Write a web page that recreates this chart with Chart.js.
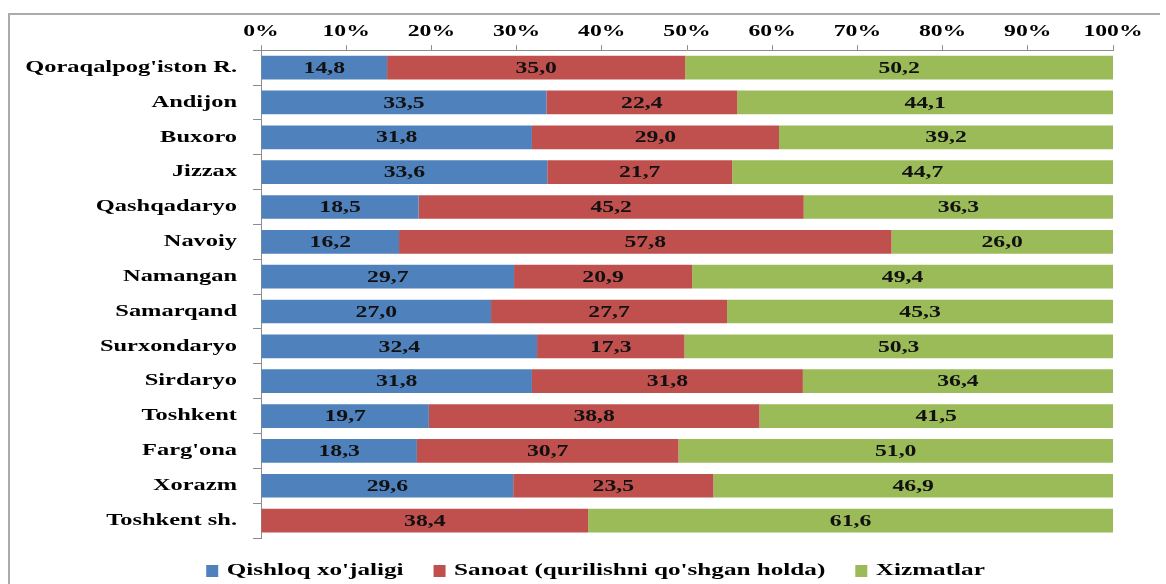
<!DOCTYPE html>
<html>
<head>
<meta charset="utf-8">
<script src="https://cdn.jsdelivr.net/npm/chart.js@4/dist/chart.umd.min.js"></script>
<style>
html,body{margin:0;padding:0;background:#fff;overflow:hidden;width:1166px;height:584px;}
#wrap{position:absolute;left:0;top:0;width:1166px;height:584px;overflow:hidden;}
canvas{display:block;}
</style>
</head>
<body>
<div id="wrap"><canvas id="c" width="1166" height="600"></canvas></div>
<script>
// ---- data ----
const categories = ["Qoraqalpog'iston R.", "Andijon", "Buxoro", "Jizzax", "Qashqadaryo", "Navoiy", "Namangan", "Samarqand", "Surxondaryo", "Sirdaryo", "Toshkent", "Farg'ona", "Xorazm", "Toshkent sh."];
const seriesNames = ["Qishloq xo'jaligi", "Sanoat (qurilishni qo'shgan holda)", "Xizmatlar"];
const agriculture = [14.8, 33.5, 31.8, 33.6, 18.5, 16.2, 29.7, 27.0, 32.4, 31.8, 19.7, 18.3, 29.6, 0];
const industry    = [35.0, 22.4, 29.0, 21.7, 45.2, 57.8, 20.9, 27.7, 17.3, 31.8, 38.8, 30.7, 23.5, 38.4];
const services    = [50.2, 44.1, 39.2, 44.7, 36.3, 26.0, 49.4, 45.3, 50.3, 36.4, 41.5, 51.0, 46.9, 61.6];
const xTickValues = [0, 10, 20, 30, 40, 50, 60, 70, 80, 90, 100];

// ---- styling ----
const COLORS = ['#4F81BD', '#C0504D', '#9BBB59'];
const FONT_FAMILY = '"Liberation Serif", "Times New Roman", serif';
const STRETCH = 1.48;           // horizontal text stretch like the reference
const LEGEND_FONT = 17;
const LEGEND_TEXT_Y = 571;
const LEGEND_CENTER_X = 595.5;
const AXIS_GRAY = '#8c8c8c';
const FRAME_GRAY = '#ababab';

const canvas = document.getElementById('c');
const ctx = canvas.getContext('2d');
const proto = CanvasRenderingContext2D.prototype;
ctx.fillText = function (t, x, y, mw) {
  this.save();
  this.translate(x, y);
  this.scale(STRETCH, 1);
  if (mw !== undefined) proto.fillText.call(this, t, 0, 0, mw / STRETCH);
  else proto.fillText.call(this, t, 0, 0);
  this.restore();
};
ctx.measureText = function (t) {
  const m = proto.measureText.call(this, t);
  return {
    width: m.width * STRETCH,
    actualBoundingBoxAscent: m.actualBoundingBoxAscent,
    actualBoundingBoxDescent: m.actualBoundingBoxDescent,
    actualBoundingBoxLeft: m.actualBoundingBoxLeft * STRETCH,
    actualBoundingBoxRight: m.actualBoundingBoxRight * STRETCH,
    fontBoundingBoxAscent: m.fontBoundingBoxAscent,
    fontBoundingBoxDescent: m.fontBoundingBoxDescent
  };
};

const fmt = v => v.toFixed(1).replace('.', ',');

const frame = {
  id: 'frame',
  beforeDraw(chart) {
    const c = chart.ctx;
    c.save();
    c.fillStyle = FRAME_GRAY;
    c.fillRect(8, 13, chart.width - 14, 2);
    c.fillRect(8, 13, 2, chart.height - 13);
    c.restore();
  }
};

const valueLabels = {
  id: 'valueLabels',
  afterDatasetsDraw(chart) {
    const c = chart.ctx;
    c.save();
    c.font = 'bold 16px ' + FONT_FAMILY;
    c.fillStyle = '#111';
    c.textAlign = 'center';
    c.textBaseline = 'middle';
    chart.data.datasets.forEach((ds, di) => {
      const meta = chart.getDatasetMeta(di);
      meta.data.forEach((bar, i) => {
        const v = ds.data[i];
        if (!v) return;
        const p = bar.getProps(['x', 'base', 'y'], true);
        c.fillText(fmt(v), (p.x + p.base) / 2, p.y + 1);
      });
    });
    c.restore();
  }
};

const legendPlace = {
  id: 'legendPlace',
  afterLayout(chart) {
    const lg = chart.legend;
    if (!lg) return;
    const h = lg.bottom - lg.top;
    const pad = lg.options.labels.padding;
    const top = LEGEND_TEXT_Y - pad - LEGEND_FONT / 2;
    lg.top = top; lg.bottom = top + h;
    const dx = LEGEND_CENTER_X - (lg.left + lg.right) / 2;
    lg.left += dx; lg.right += dx;
  }
};

Chart.defaults.font.family = FONT_FAMILY;
Chart.defaults.font.weight = 'bold';
Chart.defaults.font.size = 16;
Chart.defaults.color = '#000';

const seriesData = [agriculture, industry, services];

new Chart(ctx, {
  type: 'bar',
  data: {
    labels: categories,
    datasets: seriesNames.map((name, i) => ({
      label: name,
      data: seriesData[i],
      backgroundColor: COLORS[i],
      borderWidth: 0,
      categoryPercentage: 1,
      barPercentage: 0.68
    }))
  },
  options: {
    indexAxis: 'y',
    responsive: false,
    animation: false,
    devicePixelRatio: 1,
    layout: { padding: { top: 18, left: 10, right: 53, bottom: 5 } },
    scales: {
      x: {
        position: 'top',
        stacked: true,
        min: 0,
        max: 100,
        afterBuildTicks(scale) { scale.ticks = xTickValues.map(v => ({ value: v })); },
        ticks: { callback: v => v + '%', padding: 4, color: '#000', maxRotation: 0, autoSkip: false, font: { size: 16, weight: 'bold' } },
        grid: { drawOnChartArea: false, tickLength: 5, color: AXIS_GRAY },
        border: { color: AXIS_GRAY }
      },
      y: {
        stacked: true,
        afterFit(scale) { scale.width = 251; },
        ticks: { padding: 16, color: '#000', autoSkip: false, font: { size: 16.5, weight: 'bold' } },
        grid: { drawOnChartArea: false, tickLength: 8, color: AXIS_GRAY },
        border: { color: AXIS_GRAY }
      }
    },
    plugins: {
      legend: {
        position: 'bottom',
        labels: { boxWidth: 12, boxHeight: 12, padding: 30, color: '#000', font: { size: LEGEND_FONT, weight: 'bold' } }
      },
      tooltip: { enabled: false }
    }
  },
  plugins: [frame, valueLabels, legendPlace]
});
</script>
</body>
</html>
